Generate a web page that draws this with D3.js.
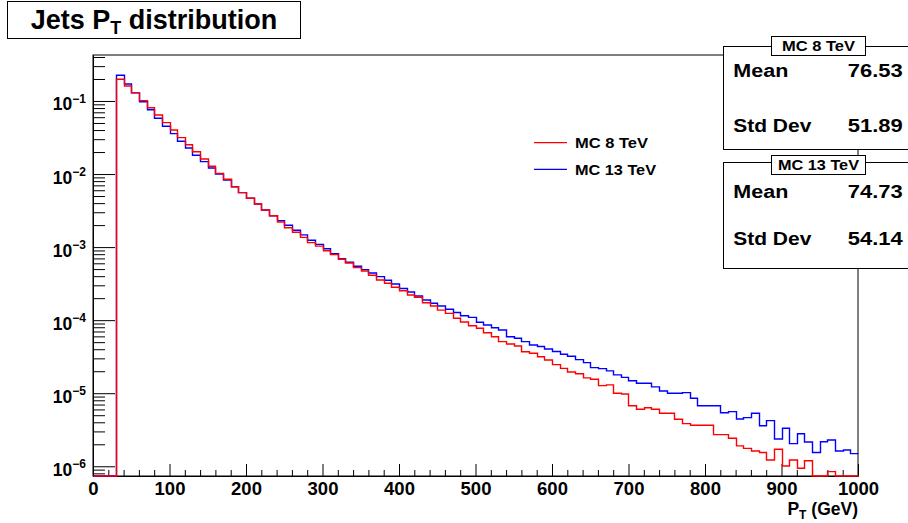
<!DOCTYPE html>
<html>
<head>
<meta charset="utf-8">
<script src="https://cdn.jsdelivr.net/npm/d3@7"></script>
<style>
  body { margin: 0; background: #fff; }
  svg { display: block; font-family: "Liberation Sans", Arial, Helvetica, sans-serif; font-weight: bold; }
</style>
</head>
<body>
<svg width="908" height="523"></svg>
<script>
// jet pT histogram, 10 GeV bins from 0 to 1000, normalised
var binEdges = d3.range(0, 1010, 10);
var mc8 = [0, 0, 0, 0.198, 0.160, 0.129, 0.101, 8.09e-2, 6.43e-2, 5.05e-2,
  4.01e-2, 3.15e-2, 2.52e-2, 2.02e-2, 1.61e-2, 1.28e-2, 1.02e-2, 8.48e-3, 6.71e-3, 5.56e-3,
  4.66e-3, 3.89e-3, 3.22e-3, 2.69e-3, 2.21e-3, 1.84e-3, 1.60e-3, 1.36e-3, 1.15e-3, 1.03e-3,
  8.93e-4, 7.88e-4, 6.81e-4, 6.06e-4, 5.23e-4, 4.71e-4, 4.11e-4, 3.55e-4, 3.20e-4, 2.82e-4,
  2.53e-4, 2.21e-4, 2.06e-4, 1.73e-4, 1.56e-4, 1.37e-4, 1.24e-4, 1.06e-4, 9.44e-5, 8.40e-5,
  7.74e-5, 6.74e-5, 5.94e-5, 5.08e-5, 4.72e-5, 4.43e-5, 3.70e-5, 3.52e-5, 3.16e-5, 2.85e-5,
  2.46e-5, 2.19e-5, 1.95e-5, 1.85e-5, 1.62e-5, 1.55e-5, 1.27e-5, 1.30e-5, 9.98e-6, 9.76e-6,
  6.75e-6, 6.03e-6, 6.34e-6, 6.03e-6, 5.31e-6, 5.31e-6, 4.40e-6, 3.83e-6, 3.64e-6, 3.64e-6,
  3.64e-6, 2.71e-6, 2.71e-6, 2.42e-6, 1.90e-6, 1.76e-6, 1.62e-6, 1.54e-6, 1.22e-6, 1.71e-6,
  1.01e-6, 1.22e-6, 9.39e-7, 1.19e-6, 0, 0, 8.44e-7, 0, 0, 0];
var mc13 = [0, 0, 0, 0.225, 0.171, 0.129, 9.78e-2, 7.60e-2, 5.80e-2, 4.51e-2,
  3.57e-2, 2.81e-2, 2.27e-2, 1.81e-2, 1.48e-2, 1.21e-2, 1.00e-2, 8.29e-3, 6.71e-3, 5.56e-3,
  4.66e-3, 3.89e-3, 3.22e-3, 2.69e-3, 2.30e-3, 1.99e-3, 1.70e-3, 1.47e-3, 1.24e-3, 1.09e-3,
  9.51e-4, 8.13e-4, 6.94e-4, 6.20e-4, 5.46e-4, 4.91e-4, 4.42e-4, 3.94e-4, 3.52e-4, 3.13e-4,
  2.71e-4, 2.43e-4, 2.14e-4, 1.89e-4, 1.70e-4, 1.56e-4, 1.41e-4, 1.27e-4, 1.15e-4, 1.09e-4,
  9.35e-5, 8.59e-5, 7.89e-5, 7.34e-5, 5.94e-5, 5.65e-5, 5.08e-5, 4.57e-5, 4.36e-5, 4.03e-5,
  3.73e-5, 3.41e-5, 3.20e-5, 2.88e-5, 2.62e-5, 2.24e-5, 2.17e-5, 2.02e-5, 1.78e-5, 1.65e-5,
  1.48e-5, 1.37e-5, 1.37e-5, 1.22e-5, 1.07e-5, 9.98e-6, 9.98e-6, 1.02e-5, 8.52e-6, 6.75e-6,
  6.75e-6, 6.75e-6, 5.41e-6, 5.59e-6, 4.44e-6, 4.63e-6, 5.31e-6, 3.59e-6, 4.21e-6, 2.36e-6,
  3.31e-6, 2.04e-6, 2.79e-6, 2.15e-6, 1.54e-6, 2.17e-6, 2.29e-6, 1.62e-6, 1.67e-6, 1.49e-6];
var seriesNames = ["MC 8 TeV", "MC 13 TeV"];
var statLabels = ["Mean", "Std Dev"];
var stats8 = ["76.53", "51.89"];
var stats13 = ["74.73", "54.14"];
var xTicks = [0, 100, 200, 300, 400, 500, 600, 700, 800, 900, 1000];
var yDecades = [-1, -2, -3, -4, -5, -6];

var svg = d3.select("svg");
var frame = {left: 93, right: 858, top: 55, bottom: 476};

var x = d3.scaleLinear()
    .domain([0, 1000])
    .range([frame.left, frame.right]);
var y = d3.scaleLog()
    .domain([7.36e-7, 0.426])
    .range([frame.bottom, frame.top]);

function yv(v) { return v > 0 ? y(v) : frame.bottom; }

// frame
svg.append("rect")
    .attr("x", frame.left).attr("y", frame.top)
    .attr("width", frame.right - frame.left)
    .attr("height", frame.bottom - frame.top)
    .attr("fill", "none").attr("stroke", "#000").attr("stroke-width", 1);

// x axis, ticks pointing up
var minorX = d3.range(20, 1000, 20).filter(function(d) { return d % 100 !== 0; });
svg.append("g")
    .attr("transform", "translate(0," + frame.bottom + ")")
    .call(d3.axisBottom(x).tickValues(minorX).tickSizeInner(-6).tickSizeOuter(0).tickFormat(""));
var gx = svg.append("g")
    .attr("transform", "translate(0," + frame.bottom + ")")
    .call(d3.axisBottom(x).tickValues(xTicks).tickSizeInner(-12).tickSizeOuter(0)
      .tickPadding(6).tickFormat(d3.format("d")));
gx.attr("font-size", null).attr("font-family", null);
gx.selectAll("text").style("font-size", "18.5px").attr("fill", "#000");

// y axis, ticks pointing right
var minorY = [];
[-7, -6, -5, -4, -3, -2, -1].forEach(function(e) {
  for (var m = 2; m <= 9; m++) {
    var v = m * Math.pow(10, e);
    if (v >= y.domain()[0] && v <= y.domain()[1]) minorY.push(v);
  }
});
svg.append("g")
    .attr("transform", "translate(" + frame.left + ",0)")
    .call(d3.axisLeft(y).tickValues(minorY).tickSizeInner(-12).tickSizeOuter(0).tickFormat(""));
svg.append("g")
    .attr("transform", "translate(" + frame.left + ",0)")
    .call(d3.axisLeft(y).tickValues(yDecades.map(function(e) { return Math.pow(10, e); }))
      .tickSizeInner(-22).tickSizeOuter(0).tickFormat(""));
svg.selectAll(".domain").attr("stroke", "#000");
svg.selectAll(".tick line").attr("stroke", "#000");

var ylab = svg.append("g").selectAll("text")
    .data(yDecades)
  .enter().append("text")
    .attr("x", 86)
    .attr("y", function(e) { return y(Math.pow(10, e)) + 9.5; })
    .attr("text-anchor", "end");
ylab.append("tspan").style("font-size", "17.5px").text("10");
ylab.append("tspan").style("font-size", "12px").attr("dy", -7.4)
    .text(function(e) { return "\u2212" + (-e); });

// histogram outlines, ROOT style (zero bins sit on the bottom);
// bin edges snapped to pixel centres so the red outline fully hides the blue one
var line = d3.line()
    .x(function(d) { return Math.round(x(d[0])) + 0.5; })
    .y(function(d) { return yv(d[1]); })
    .curve(d3.curveStepAfter);

function steps(vals) {
  var pts = vals.map(function(v, i) { return [binEdges[i], v]; });
  pts.push([binEdges[vals.length], vals[vals.length - 1]]);
  return pts;
}

svg.append("path")
    .datum(steps(mc13))
    .attr("d", line)
    .attr("fill", "none")
    .attr("stroke", "#0000ff")
    .attr("stroke-width", 1.4);
svg.append("path")
    .datum(steps(mc8))
    .attr("d", line)
    .attr("fill", "none")
    .attr("stroke", "#ff0000")
    .attr("stroke-width", 1.4);

// x title
var xt = svg.append("text")
    .attr("x", frame.right).attr("y", 515)
    .attr("text-anchor", "end")
    .style("font-size", "17.5px");
xt.append("tspan").text("P");
xt.append("tspan").style("font-size", "12px").attr("dy", 4).text("T");
xt.append("tspan").attr("dy", -4).text(" (GeV)");

// title box
svg.append("rect")
    .attr("x", 7.5).attr("y", 1.5).attr("width", 293).attr("height", 37)
    .attr("fill", "#fff").attr("stroke", "#000");
var tt = svg.append("text")
    .attr("x", 154).attr("y", 28.5)
    .attr("text-anchor", "middle")
    .style("font-size", "27px");
tt.append("tspan").text("Jets P");
tt.append("tspan").style("font-size", "18px").attr("dy", 5).text("T");
tt.append("tspan").attr("dy", -5).text(" distribution");

// legend
var legend = [
  {name: seriesNames[0], color: "#ff0000", y: 142.7, len: 73},
  {name: seriesNames[1], color: "#0000ff", y: 169.3, len: 81}
];
legend.forEach(function(d) {
  svg.append("line")
      .attr("x1", 534).attr("x2", 567).attr("y1", d.y).attr("y2", d.y)
      .attr("stroke", d.color).attr("stroke-width", 1.3);
  svg.append("text")
      .attr("x", 575).attr("y", d.y + 5.2)
      .attr("textLength", d.len).attr("lengthAdjust", "spacingAndGlyphs")
      .style("font-size", "14.5px")
      .text(d.name);
});

// stats boxes
var boxes = [
  {name: seriesNames[0], vals: stats8, top: 46.5, bottom: 149.5, tab: 36.5, rows: [77, 131.5], len: 73},
  {name: seriesNames[1], vals: stats13, top: 162.5, bottom: 268.5, tab: 155.5, rows: [197.5, 244.5], len: 81}
];
boxes.forEach(function(b) {
  svg.append("rect")
      .attr("x", 723.5).attr("y", b.top).attr("width", 200).attr("height", b.bottom - b.top)
      .attr("fill", "#fff").attr("stroke", "#000");
  svg.append("rect")
      .attr("x", 771.5).attr("y", b.tab).attr("width", 94).attr("height", 19)
      .attr("fill", "#fff").attr("stroke", "#000");
  svg.append("text")
      .attr("x", 818.5).attr("y", b.tab + 14.5)
      .attr("text-anchor", "middle")
      .attr("textLength", b.len).attr("lengthAdjust", "spacingAndGlyphs")
      .style("font-size", "14.5px")
      .text(b.name);
  statLabels.forEach(function(lab, i) {
    svg.append("text")
        .attr("x", 733.3).attr("y", b.rows[i])
        .attr("textLength", i === 0 ? 55 : 78).attr("lengthAdjust", "spacingAndGlyphs")
        .style("font-size", "17.5px")
        .text(lab);
    svg.append("text")
        .attr("x", 902.7).attr("y", b.rows[i])
        .attr("text-anchor", "end")
        .attr("textLength", 55).attr("lengthAdjust", "spacingAndGlyphs")
        .style("font-size", "17.5px")
        .text(b.vals[i]);
  });
});
</script>
</body>
</html>
